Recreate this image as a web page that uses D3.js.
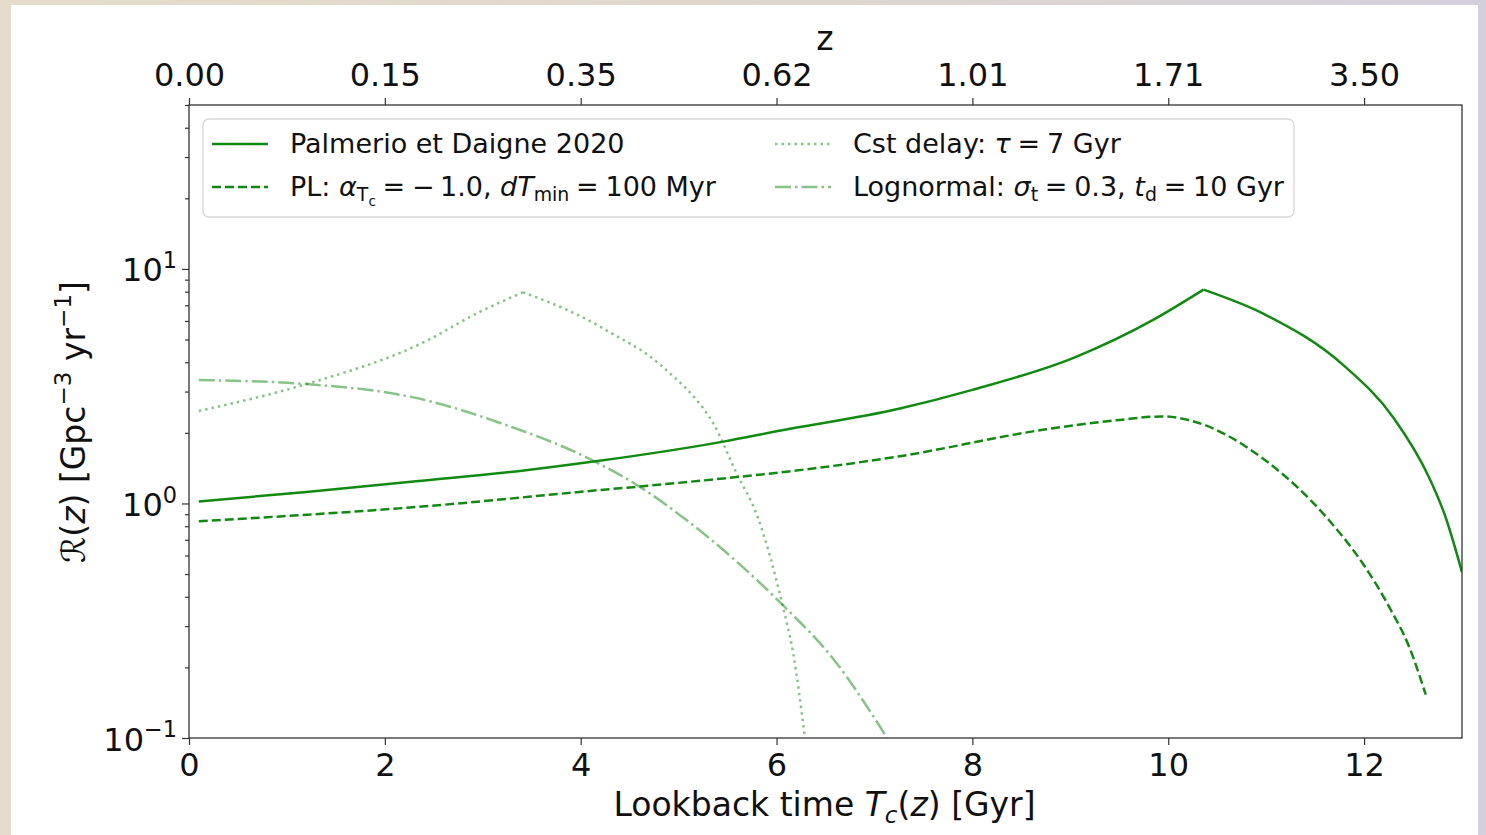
<!DOCTYPE html>
<html>
<head>
<meta charset="utf-8">
<script src="https://cdn.jsdelivr.net/npm/d3@7"></script>
<style>
    body { margin: 0; overflow: hidden; }
    text { font-family: "DejaVu Sans", sans-serif; fill: #111; }
</style>
</head>
<body>
<svg id="drawing_region"></svg>
<script>
// --- data ---
const palmerioT = [0.1, 1.2, 2.38, 3.4, 4.19, 5.47, 6.0, 7.26, 8.0, 9.04, 9.86, 10.36, 10.98, 11.8, 12.3, 12.66, 12.83, 13.0];
const palmerioR = [1.02, 1.12, 1.25, 1.38, 1.52, 1.84, 2.03, 2.54, 3.05, 4.19, 6.11, 8.16, 6.42, 3.85, 2.32, 1.3, 0.88, 0.51];

const plT = [0.1, 2.38, 4.19, 4.59, 7.26, 8.75, 9.5, 9.94, 10.24, 10.98, 11.64, 11.98, 12.26, 12.46, 12.63];
const plR = [0.84, 0.97, 1.14, 1.18, 1.59, 2.07, 2.27, 2.35, 2.25, 1.54, 0.85, 0.56, 0.36, 0.245, 0.153];

const cstT = [0.1, 1.2, 2.38, 2.96, 3.41, 3.68, 4.02, 4.36, 4.70, 4.94, 5.15, 5.35, 5.59, 5.81, 6.06, 6.17, 6.29];
const cstR = [2.48, 3.23, 4.83, 6.53, 7.95, 7.20, 6.22, 5.19, 4.26, 3.50, 2.87, 2.21, 1.35, 0.87, 0.37, 0.23, 0.1];

const lognT = [0.1, 1.2, 2.38, 3.17, 4.13, 4.60, 5.08, 6.06, 6.57, 7.13];
const lognR = [3.36, 3.23, 2.78, 2.21, 1.52, 1.18, 0.85, 0.37, 0.22, 0.1];

const xTicks = [0, 2, 4, 6, 8, 10, 12];
const zTickLabels = ["0.00", "0.15", "0.35", "0.62", "1.01", "1.71", "3.50"];
const yMajorTicks = [0.1, 1, 10];
const yMajorExp = ["\u22121", "0", "1"];

const config = {
    width: 1486,
    height: 835,
    margin: {top: 105, right: 24, bottom: 97, left: 189}
};

const green = "#118a11";

// writes math-like text into a <text> using tspans; level: 0 normal, -1 sub, -2 subsub, 1 super
function richText(sel, parts, size) {
    let cur = 0;
    const shift = {0: 0, 1: 0.42, "-1": -0.2, "-2": -0.36};
    const scale = {0: 1, 1: 0.7, "-1": 0.7, "-2": 0.5};
    parts.forEach(p => {
        const lvl = p.l || 0;
        const off = shift[lvl] * size;
        const ts = sel.append("tspan")
            .text(p.s)
            .attr("dy", -(off - cur))
            .attr("font-size", size * scale[lvl]);
        if (p.i) ts.attr("font-style", "italic");
        cur = off;
    });
}

const svg = d3.select("#drawing_region")
    .attr("width", config.width)
    .attr("height", config.height);

// blurry backdrop and white figure panel
const defs = svg.append("defs");
const grad = defs.append("linearGradient").attr("id", "bg").attr("x1", 0).attr("x2", 1).attr("y1", 0).attr("y2", 0);
grad.append("stop").attr("offset", "0%").attr("stop-color", "#e6dccb");
grad.append("stop").attr("offset", "60%").attr("stop-color", "#ded6d0");
grad.append("stop").attr("offset", "100%").attr("stop-color", "#d3d0dc");
svg.append("rect").attr("width", config.width).attr("height", config.height).attr("fill", "url(#bg)");
svg.append("rect").attr("x", 11).attr("y", 5).attr("width", 1467).attr("height", 830).attr("fill", "#fff");

const x0 = config.margin.left, x1 = config.width - config.margin.right;
const y0 = config.margin.top, y1 = config.height - config.margin.bottom;

const xscale = d3.scaleLinear().domain([0, 13.0]).range([x0, x1]);
const yscale = d3.scaleLog().domain([0.1, 50]).range([y1, y0]);

defs.append("clipPath").attr("id", "plotclip")
    .append("rect").attr("x", x0).attr("y", y0).attr("width", x1 - x0).attr("height", y1 - y0);

// curves
const line = d3.line()
    .x(d => xscale(d[0]))
    .y(d => yscale(d[1]))
    .curve(d3.curveMonotoneX);

// cusp: index of a sharp peak, the curve is drawn in two pieces on each side of it
const series = [
    {t: palmerioT, r: palmerioR, dash: null, op: 1, cusp: 11},
    {t: plT, r: plR, dash: "9,4", op: 1, cusp: null},
    {t: cstT, r: cstR, dash: "2.5,4", op: 0.5, cusp: 4},
    {t: lognT, r: lognR, dash: "16,4,2.5,4", op: 0.5, cusp: null}
];

const plot = svg.append("g").attr("clip-path", "url(#plotclip)");
series.forEach(s => {
    const pts = s.t.map((t, i) => [t, s.r[i]]);
    let d;
    if (s.cusp != null) {
        d = line(pts.slice(0, s.cusp + 1)) + line(pts.slice(s.cusp));
    } else {
        d = line(pts);
    }
    plot.append("path")
        .attr("d", d)
        .attr("fill", "none")
        .attr("stroke", green)
        .attr("stroke-opacity", s.op)
        .attr("stroke-width", 2.5)
        .attr("stroke-dasharray", s.dash);
});

// axes
const axisColor = "#333";
const tickFont = 32;
function styleAxis(g) {
    g.select(".domain").remove();
    g.selectAll(".tick line").attr("stroke", axisColor).attr("stroke-width", 1.2);
    g.selectAll(".tick text").attr("fill", "#111").attr("font-family", "DejaVu Sans, sans-serif");
}

svg.append("g")
    .attr("transform", `translate(0, ${y1})`)
    .call(d3.axisBottom(xscale).tickValues(xTicks).tickSize(7).tickPadding(8).tickFormat(d3.format("d")))
    .call(styleAxis)
    .selectAll(".tick text").attr("font-size", tickFont);

svg.append("g")
    .attr("transform", `translate(0, ${y0})`)
    .call(d3.axisTop(xscale).tickValues(xTicks).tickSize(7).tickPadding(12).tickFormat((d, i) => zTickLabels[i]))
    .call(styleAxis)
    .selectAll(".tick text").attr("font-size", tickFont);

const yMinor = [];
[0.1, 1, 10].forEach(dec => { for (let k = 2; k <= 9; k++) if (dec * k <= 50) yMinor.push(dec * k); });

svg.append("g")
    .attr("transform", `translate(${x0}, 0)`)
    .call(d3.axisLeft(yscale).tickValues(yMinor).tickSize(4).tickFormat(""))
    .call(styleAxis);

const yAxisG = svg.append("g")
    .attr("transform", `translate(${x0}, 0)`)
    .call(d3.axisLeft(yscale).tickValues(yMajorTicks).tickSize(7).tickFormat(""))
    .call(styleAxis);

yAxisG.selectAll(".tick").each(function(d, i) {
    const t = d3.select(this).append("text")
        .attr("x", -12)
        .attr("y", 12)
        .attr("text-anchor", "end")
        .attr("fill", "#111");
    richText(t, [{s: "10"}, {s: yMajorExp[i], l: 1}], tickFont);
});

// frame
svg.append("rect")
    .attr("x", x0).attr("y", y0)
    .attr("width", x1 - x0).attr("height", y1 - y0)
    .attr("fill", "none").attr("stroke", axisColor).attr("stroke-width", 1.3);

// axis labels
const labelFont = 33;
const xl = svg.append("text")
    .attr("x", (x0 + x1) / 2 - 1)
    .attr("y", 816)
    .attr("text-anchor", "middle");
richText(xl, [{s: "Lookback time "}, {s: "T", i: true}, {s: "c", i: true, l: -1}, {s: "("}, {s: "z", i: true}, {s: ") [Gyr]"}], labelFont);

svg.append("text")
    .attr("x", 825)
    .attr("y", 50)
    .attr("text-anchor", "middle")
    .attr("font-size", labelFont)
    .text("z");

const yl = svg.append("text")
    .attr("transform", "translate(85, 422) rotate(-90)")
    .attr("text-anchor", "middle");
richText(yl, [{s: "\u211B("}, {s: "z", i: true}, {s: ") [Gpc"}, {s: "\u22123", l: 1}, {s: " yr", l: 0}, {s: "\u22121", l: 1}, {s: "]"}], labelFont);

// legend
const legend = svg.append("g");
legend.append("rect")
    .attr("x", 203).attr("y", 119)
    .attr("width", 1091).attr("height", 98)
    .attr("rx", 6)
    .attr("fill", "#fff").attr("fill-opacity", 0.8)
    .attr("stroke", "#d8d8d8").attr("stroke-width", 1.3);

const eq = "\u2005=\u2005";
const legendItems = [
    {s: series[0], col: 0, row: 0, parts: [{s: "Palmerio et Daigne 2020"}]},
    {s: series[1], col: 0, row: 1, parts: [{s: "PL: "}, {s: "\u03B1", i: true}, {s: "T", l: -1}, {s: "c", l: -2}, {s: eq + "\u2212\u20091.0, "}, {s: "dT", i: true}, {s: "min", l: -1}, {s: eq + "100 Myr"}]},
    {s: series[2], col: 1, row: 0, parts: [{s: "Cst delay: "}, {s: "\u03C4", i: true}, {s: eq + "7 Gyr"}]},
    {s: series[3], col: 1, row: 1, parts: [{s: "Lognormal: "}, {s: "\u03C3", i: true}, {s: "t", l: -1}, {s: eq + "0.3, "}, {s: "t", i: true}, {s: "d", l: -1}, {s: eq + "10 Gyr"}]}
];
const colX = [212, 775];
const rowY = [144, 187];

legendItems.forEach(it => {
    const lx = colX[it.col], ly = rowY[it.row];
    legend.append("line")
        .attr("x1", lx).attr("x2", lx + 56)
        .attr("y1", ly).attr("y2", ly)
        .attr("stroke", green)
        .attr("stroke-opacity", it.s.op)
        .attr("stroke-width", 2.5)
        .attr("stroke-dasharray", it.s.dash);
    const t = legend.append("text")
        .attr("x", lx + 78)
        .attr("y", ly + 9);
    richText(t, it.parts, 27);
});
</script>
</body>
</html>
